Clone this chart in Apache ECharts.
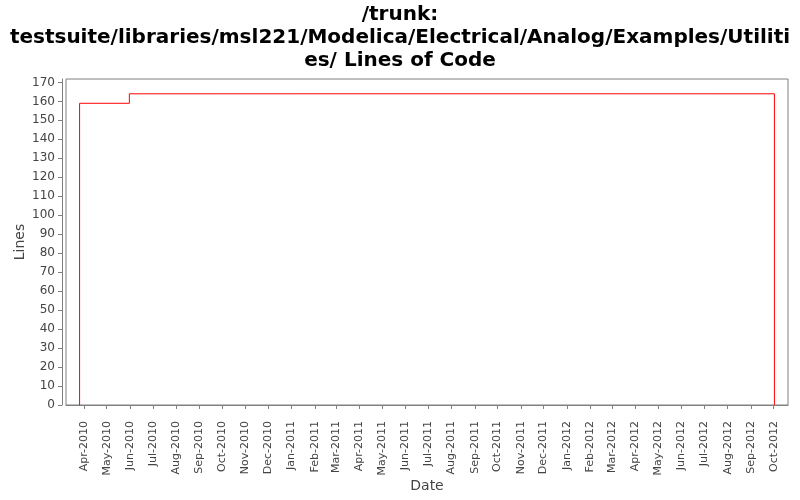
<!DOCTYPE html>
<html>
<head>
<meta charset="utf-8">
<script src="https://cdn.jsdelivr.net/npm/echarts@6/dist/echarts.min.js"></script>
<style>
  html, body { margin: 0; padding: 0; background: #fff; }
  #chart { width: 800px; height: 500px; }
</style>
</head>
<body>
<div id="chart"></div>
<script>
// chart text
const titleLines = [
  '/trunk:',
  'testsuite/libraries/msl221/Modelica/Electrical/Analog/Examples/Utiliti',
  'es/ Lines of Code'
]

// step points: date, lines of code
const dates = ['2010-03-26', '2010-03-26', '2010-05-31', '2012-10-02']
const lines = [0, 159, 164, 0]

// x range and month ticks
const xRange = ['2010-03-08', '2012-10-20']
const tickMonths = [
  '2010-04', '2010-05', '2010-06', '2010-07', '2010-08', '2010-09', '2010-10', '2010-11', '2010-12',
  '2011-01', '2011-02', '2011-03', '2011-04', '2011-05', '2011-06', '2011-07', '2011-08', '2011-09',
  '2011-10', '2011-11', '2011-12', '2012-01', '2012-02', '2012-03', '2012-04', '2012-05', '2012-06',
  '2012-07', '2012-08', '2012-09', '2012-10'
]
const monthNames = ['Jan', 'Feb', 'Mar', 'Apr', 'May', 'Jun', 'Jul', 'Aug', 'Sep', 'Oct', 'Nov', 'Dec']

const ts = s => {
  const p = s.split('-').map(Number)
  return Date.UTC(p[0], p[1] - 1, p[2] || 1)
}
const tickValues = tickMonths.map(ts)
const fmtMonth = v => {
  const d = new Date(v)
  return monthNames[d.getUTCMonth()] + '-' + d.getUTCFullYear()
}

const grey = '#808080'
const textCol = '#444'

const chart = echarts.init(document.getElementById('chart'))
chart.setOption({
  animation: false,
  backgroundColor: '#fff',
  title: {
    text: titleLines.join('\n'),
    left: 'center',
    top: -2,
    textStyle: {
      fontFamily: 'DejaVu Sans',
      fontWeight: 'bold',
      fontSize: 20,
      lineHeight: 23,
      color: '#000'
    }
  },
  grid: {
    left: 66,
    right: 12,
    top: 79,
    bottom: 95,
    outerBoundsMode: 'none',
    containLabel: false,
    show: true,
    borderColor: grey,
    borderWidth: 1,
    backgroundColor: '#fff'
  },
  xAxis: {
    type: 'value',
    min: ts(xRange[0]),
    max: ts(xRange[1]),
    offset: 4,
    name: 'Date',
    nameLocation: 'middle',
    nameGap: 70,
    nameMoveOverlap: false,
    nameTextStyle: { fontFamily: 'DejaVu Sans', fontSize: 14, color: textCol },
    axisLine: { show: true, lineStyle: { color: grey } },
    axisTick: { show: true, length: 4, lineStyle: { color: grey }, customValues: tickValues },
    splitLine: { show: false },
    axisLabel: {
      customValues: tickValues,
      formatter: fmtMonth,
      rotate: 90,
      fontFamily: 'DejaVu Sans',
      fontSize: 11,
      color: textCol,
      margin: 12
    }
  },
  yAxis: {
    type: 'value',
    min: 0,
    max: 171.8,
    interval: 10,
    offset: 4,
    name: 'Lines',
    nameLocation: 'middle',
    nameGap: 35,
    nameMoveOverlap: false,
    nameTextStyle: { fontFamily: 'DejaVu Sans', fontSize: 14, color: textCol },
    axisLine: { show: true, lineStyle: { color: grey } },
    axisTick: { show: true, length: 4, lineStyle: { color: grey } },
    splitLine: { show: false },
    axisLabel: {
      showMaxLabel: false,
      fontFamily: 'DejaVu Sans',
      fontSize: 12,
      color: textCol,
      margin: 7,
      formatter: v => (v % 10 === 0 ? String(v) : '')
    }
  },
  series: [{
    type: 'line',
    step: 'end',
    symbol: 'none',
    lineStyle: { color: '#ff0000', width: 1 },
    data: dates.map((d, i) => [ts(d), lines[i]])
  }]
})
</script>
</body>
</html>
